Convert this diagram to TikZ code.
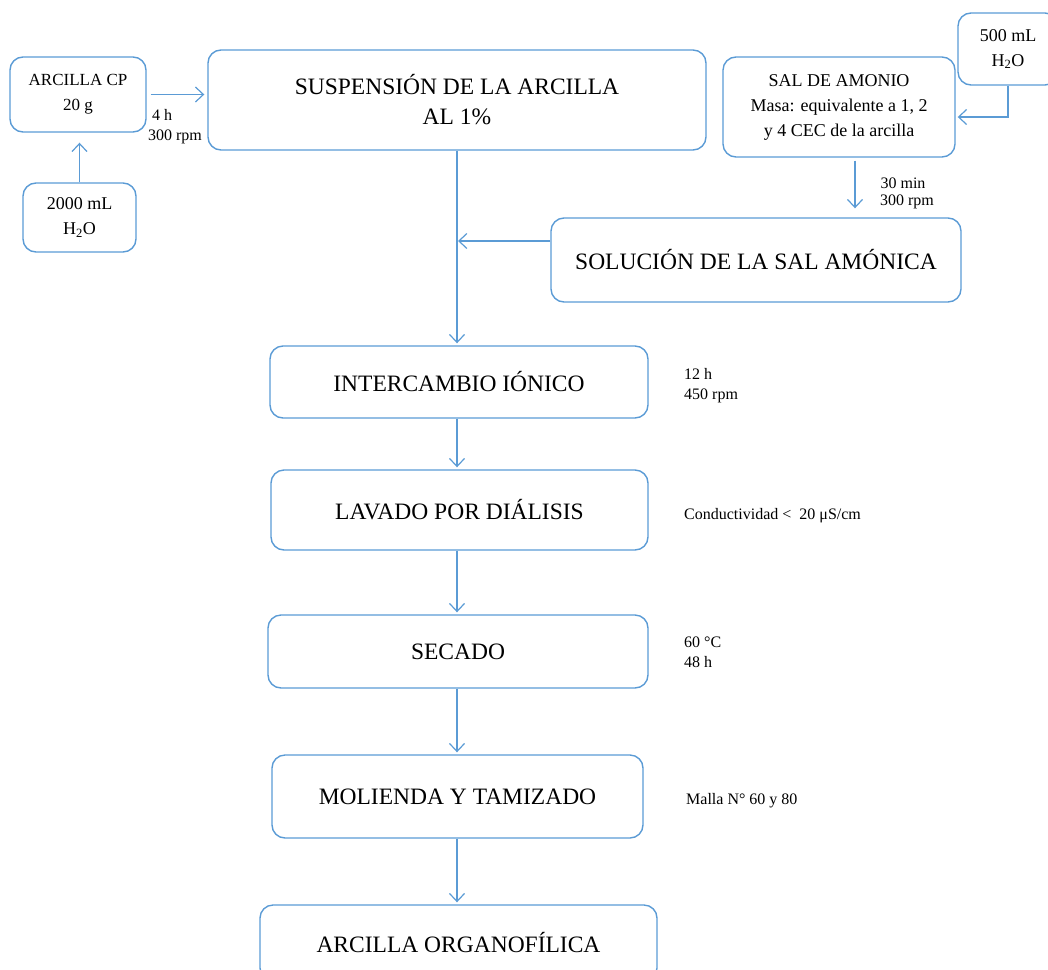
\documentclass[tikz,border=0pt]{standalone}
\usepackage{fontspec}
\setmainfont{Liberation Serif}
\usetikzlibrary{arrows.meta}
\definecolor{lblue}{HTML}{5B9BD5}
\tikzset{
  box/.style={draw=lblue, line width=1.4pt, rounded corners=13pt, align=center, inner sep=2pt},
  bigtxt/.style={font=\fontsize{23.5}{30}\selectfont},
  midtxt/.style={font=\fontsize{18}{25}\selectfont},
  smalltxt/.style={font=\fontsize{16}{20}\selectfont, align=left, inner sep=0pt, anchor=west},
  arr/.style={draw=lblue, line width=1.2pt, -{Straight Barb[length=8pt,width=15pt,line width=1.2pt]}},
}
\begin{document}
\begin{tikzpicture}[x=1pt,y=-1pt]
\useasboundingbox (0,0) rectangle (1048,969);
\clip (0,0) rectangle (1048,969);
% nodes
\node[box, midtxt, font=\fontsize{17}{25}\selectfont, minimum width=136pt, minimum height=75pt] (cp) at (78,94.5) {ARCILLA CP\\20 g};
\node[box, midtxt, minimum width=113pt, minimum height=69pt] (h2o) at (79.5,217.5) {2000 mL\\H\textsubscript{2}O};
\node[box, bigtxt, minimum width=498pt, minimum height=100pt] (susp) at (457,100) {SUSPENSIÓN DE LA ARCILLA\\AL 1\%};
\node[box, midtxt, minimum width=232pt, minimum height=100pt] (sal) at (839,107) {SAL DE AMONIO\\Masa: equivalente a 1, 2\\y 4 CEC de la arcilla};
\node[box, midtxt, minimum width=100pt, minimum height=72pt] (w500) at (1008,49) {500 mL\\H\textsubscript{2}O};
\node[box, bigtxt, minimum width=410pt, minimum height=84pt] (sol) at (756,260) {SOLUCIÓN DE LA SAL AMÓNICA};
\node[box, bigtxt, minimum width=378pt, minimum height=72pt] (inter) at (459,382) {INTERCAMBIO IÓNICO};
\node[box, bigtxt, minimum width=377pt, minimum height=80pt] (lav) at (459.5,510) {LAVADO POR DIÁLISIS};
\node[box, bigtxt, minimum width=380pt, minimum height=73pt] (sec) at (458,651.5) {SECADO};
\node[box, bigtxt, minimum width=371pt, minimum height=83pt] (mol) at (457.5,796.5) {MOLIENDA Y TAMIZADO};
\node[box, bigtxt, minimum width=397pt, minimum height=76pt] (org) at (458.5,943) {ARCILLA ORGANOFÍLICA};
% labels
\node[smalltxt, anchor=center] (l4h) at (162,115) {4 h};
\node[smalltxt, anchor=center] (l300a) at (175,137) {300 rpm};
\node[smalltxt, anchor=center] (l30) at (903,183) {30 min};
\node[smalltxt, anchor=center] (l300b) at (907,202) {300 rpm};
\node[smalltxt] (l12) at (684,386) {12 h\\450 rpm};
\node[smalltxt] (lcond) at (684,516) {Conductividad <~ 20 μS/cm};
\node[smalltxt] (l60) at (684,652) {60 °C\\48 h};
\node[smalltxt] (lmalla) at (686,801) {Malla N° 60 y 80};
% connectors
\coordinate (j) at (457,241);
\draw[arr, shorten >=10pt] (h2o.north) -- (h2o.north |- cp.south);
\draw[arr, shorten <=4pt, shorten >=3pt] (cp.east) -- (susp.west |- cp.east);
\draw[arr, shorten >=2pt] (w500.south) |- ([yshift=-10pt]sal.east);
\draw[arr, shorten <=3pt, shorten >=9pt] ([xshift=16pt]sal.south) -- ([xshift=16pt]sal.south |- sol.north);
\draw[arr, shorten >=1pt] (sol.west |- j) -- (j);
\draw[arr, shorten >=2pt] (susp.south) -- (susp.south |- inter.north);
\draw[arr, shorten >=2pt] (inter.south -| susp.south) -- (susp.south |- lav.north);
\draw[arr, shorten >=2pt] (lav.south -| susp.south) -- (susp.south |- sec.north);
\draw[arr, shorten >=2pt] (sec.south -| susp.south) -- (susp.south |- mol.north);
\draw[arr, shorten >=2pt] (mol.south -| susp.south) -- (susp.south |- org.north);
\end{tikzpicture}
\end{document}
